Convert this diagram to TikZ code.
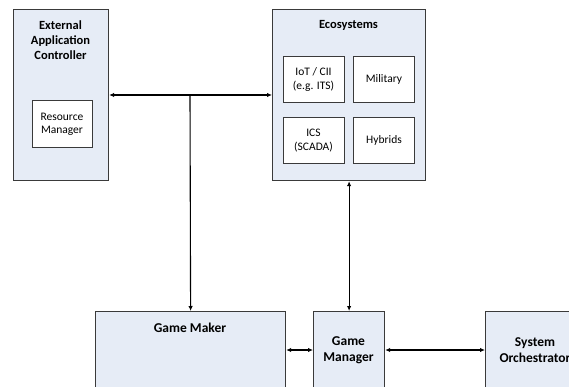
\documentclass[tikz,border=0pt]{standalone}
\usepackage{fontspec}
\setmainfont{Carlito}
\usetikzlibrary{arrows.meta}
\definecolor{panelfill}{HTML}{E6ECF6}
\definecolor{edgegray}{HTML}{3A3A3A}
\begin{document}
\begin{tikzpicture}[x=1pt,y=-1pt,
  panel/.style={draw=edgegray, fill=panelfill, line width=1.2pt, inner sep=0pt, anchor=north west},
  subbox/.style={draw=edgegray, fill=white, line width=1pt, align=center, inner sep=0pt,
    minimum width=61pt, minimum height=46pt, font=\fontsize{11.5}{13.5}\selectfont},
  heading/.style={font=\bfseries\fontsize{12.5}{15}\selectfont, align=center},
  bigheading/.style={font=\bfseries\fontsize{13.5}{16}\selectfont, align=center},
  tip/.tip={Latex[length=5pt,width=4.5pt]},
  link/.style={line width=1.1pt, tip-tip},
  feed/.style={line width=1.1pt, -tip},
]
\useasboundingbox (0,0) rectangle (569,387);
\clip (0,0) rectangle (569,387);

% external application controller
\node[panel, minimum width=95pt, minimum height=171pt] (eac) at (13,9) {};
\node[heading] (eactitle) at (60.5,40) {External\\Application\\Controller};
\node[subbox, minimum width=60pt, minimum height=47pt] (rm) at (62,124.5) {Resource\\Manager};

% ecosystems
\node[panel, minimum width=153pt, minimum height=171pt] (eco) at (272,9) {};
\node[heading] (ecotitle) at (348.5,25) {Ecosystems};
\node[subbox] (iot) at (313.5,79.5) {IoT / CII\\(e.g. ITS)};
\node[subbox] (mil) at (384,79.5) {Military};
\node[subbox] (ics) at (313.5,140.5) {ICS\\(SCADA)};
\node[subbox] (hyb) at (384,140.5) {Hybrids};

% bottom row
\node[panel, minimum width=190pt, minimum height=100pt] (maker) at (95,311) {};
\node[bigheading] (makertitle) at (190,328) {Game Maker};
\node[panel, minimum width=71pt, minimum height=100pt] (gman) at (313,311) {};
\node[bigheading] (gmantext) at (348.5,350) {Game\\Manager};
\node[panel, minimum width=100pt, minimum height=100pt] (orch) at (485,311) {};
\node[bigheading] (orchtext) at (535,350) {System\\Orchestrator};

% connectors
\coordinate (tap) at (190,95);
\draw[link] (eac.east |- tap) -- (eco.west |- tap);
\draw[feed] (tap) -- (maker.north);
\draw[link] (eco.south) -- (gman.north);
\draw[link] (maker.east |- gmantext) -- (gman.west |- gmantext);
\draw[link] (gman.east |- gmantext) -- (orch.west |- gmantext);
\end{tikzpicture}
\end{document}
